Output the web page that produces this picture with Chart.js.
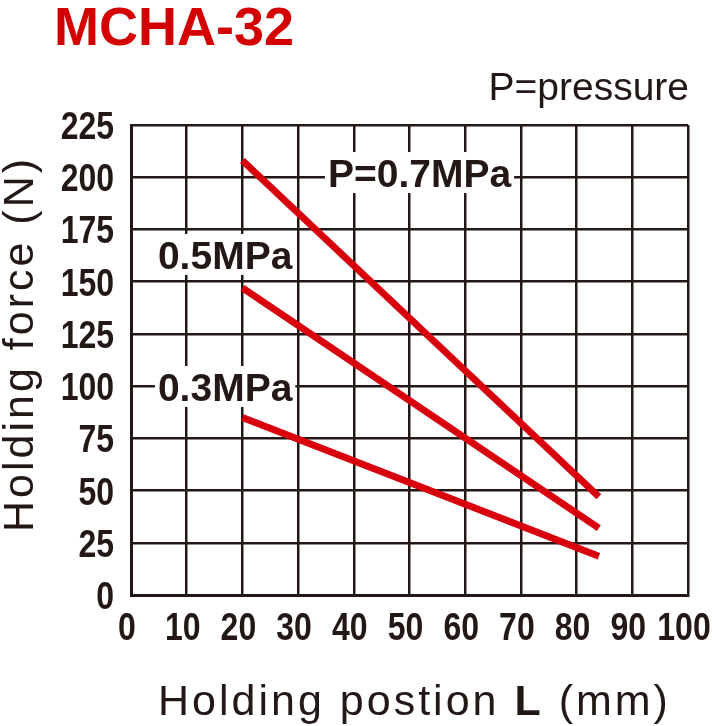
<!DOCTYPE html>
<html lang="en">
<head>
    <meta charset="UTF-8">
    <title>MCHA-32 Holding force</title>
    <script src="https://cdn.jsdelivr.net/npm/chart.js"></script>
    <style>
        body {
            margin: 0;
            background-color: #ffffff;
        }
        #wrap {
            width: 712px;
            height: 726px;
        }
    </style>
</head>
<body>
    <div id="wrap">
        <canvas id="forceChart" width="712" height="726"></canvas>
    </div>

    <script>
        // Data
        const positionMm = [20, 84];
        const force07 = [208, 47];
        const force05 = [147, 32];
        const force03 = [85, 18.5];
        const seriesNames = ['P=0.7MPa', '0.5MPa', '0.3MPa'];
        const xTicks = [0, 10, 20, 30, 40, 50, 60, 70, 80, 90, 100];
        const yTicks = [0, 25, 50, 75, 100, 125, 150, 175, 200, 225];

        // where each series label sits, in data units (mm, N)
        const labelX = [51.8, 16.9, 16.9];
        const labelY = [202, 162.8, 99.6];

        const ink = '#231815';
        const red = '#d9000d';
        const plainFont = '"Liberation Sans", Arial, Helvetica, sans-serif';

        function toPoints(ys) {
            return positionMm.map((x, i) => ({ x: x, y: ys[i] }));
        }

        // narrow bold numbers: Liberation Sans bold squeezed sideways
        function narrowText(ctx, text, x, y, align) {
            ctx.save();
            ctx.translate(x, y);
            ctx.scale(0.82, 1);
            ctx.textAlign = align;
            ctx.fillText(text, 0, 0);
            ctx.restore();
        }

        // text drawn on top: series labels with white boxes, ticks, titles
        const overlayPlugin = {
            id: 'overlay',
            afterDatasetsDraw(chart) {
                const ctx = chart.ctx;
                const xs = chart.scales.x;
                const ys = chart.scales.y;
                ctx.save();
                ctx.font = 'bold 39px ' + plainFont;
                ctx.textAlign = 'center';
                ctx.textBaseline = 'alphabetic';
                seriesNames.forEach((name, i) => {
                    const cx = xs.getPixelForValue(labelX[i]);
                    const cy = ys.getPixelForValue(labelY[i]);
                    const w = ctx.measureText(name).width;
                    ctx.fillStyle = '#ffffff';
                    ctx.fillRect(cx - w / 2 - 3, cy - 21, w + 6, 41);
                    ctx.fillStyle = ink;
                    ctx.fillText(name, cx, cy + 14);
                });
                ctx.restore();
            },
            afterDraw(chart) {
                const ctx = chart.ctx;
                const area = chart.chartArea;
                const xs = chart.scales.x;
                const ys = chart.scales.y;
                ctx.save();

                // tick labels
                ctx.fillStyle = ink;
                ctx.font = 'bold 39px ' + plainFont;
                ctx.textBaseline = 'alphabetic';
                yTicks.forEach(v => {
                    narrowText(ctx, String(v), area.left - 17, ys.getPixelForValue(v) + 14, 'right');
                });
                xTicks.forEach(v => {
                    narrowText(ctx, String(v), xs.getPixelForValue(v) - 4, area.bottom + 45, 'center');
                });

                // model title
                ctx.fillStyle = '#d40000';
                ctx.font = 'bold 54px ' + plainFont;
                ctx.textAlign = 'left';
                ctx.fillText('MCHA-32', 54, 45);

                // legend note
                ctx.fillStyle = ink;
                ctx.font = '39px ' + plainFont;
                ctx.textAlign = 'right';
                ctx.fillText('P=pressure', 689, 100);

                // y axis title
                ctx.letterSpacing = '3px';
                ctx.font = '43px ' + plainFont;
                ctx.textAlign = 'center';
                ctx.translate(33, 344);
                ctx.rotate(-Math.PI / 2);
                ctx.fillText('Holding force (N)', 0, 0);
                ctx.restore();

                // x axis title with bold L
                ctx.save();
                ctx.letterSpacing = '3px';
                ctx.fillStyle = ink;
                ctx.textAlign = 'left';
                ctx.textBaseline = 'alphabetic';
                const parts = [
                    ['Holding postion ', '43px ' + plainFont],
                    ['L', 'bold 43px ' + plainFont],
                    [' (mm)', '43px ' + plainFont]
                ];
                let total = 0;
                parts.forEach(p => { ctx.font = p[1]; total += ctx.measureText(p[0]).width; });
                let x = (area.left + area.right) / 2 + 5 - total / 2;
                parts.forEach(p => {
                    ctx.font = p[1];
                    ctx.fillText(p[0], x, 715);
                    x += ctx.measureText(p[0]).width;
                });
                ctx.restore();
            }
        };

        const ctx = document.getElementById('forceChart').getContext('2d');
        const forceChart = new Chart(ctx, {
            type: 'line',
            data: {
                datasets: [
                    { label: seriesNames[0], data: toPoints(force07) },
                    { label: seriesNames[1], data: toPoints(force05) },
                    { label: seriesNames[2], data: toPoints(force03) }
                ].map(d => Object.assign(d, {
                    borderColor: red,
                    borderWidth: 7,
                    borderCapStyle: 'butt',
                    pointRadius: 0,
                    fill: false,
                    tension: 0
                }))
            },
            options: {
                responsive: false,
                animation: false,
                layout: {
                    padding: { top: 125, right: 24, left: 0, bottom: 0 }
                },
                plugins: {
                    legend: { display: false },
                    tooltip: { enabled: false }
                },
                scales: {
                    x: {
                        type: 'linear',
                        min: 0,
                        max: 100,
                        afterFit: s => { s.height = 131; },
                        afterBuildTicks: s => { s.ticks = xTicks.map(v => ({ value: v })); },
                        ticks: { display: false },
                        grid: { color: ink, lineWidth: 2.5, drawTicks: false },
                        border: { color: ink, width: 3 }
                    },
                    y: {
                        min: 0,
                        max: 225,
                        afterFit: s => { s.width = 131; },
                        afterBuildTicks: s => { s.ticks = yTicks.map(v => ({ value: v })); },
                        ticks: { display: false },
                        grid: { color: ink, lineWidth: 2.5, drawTicks: false },
                        border: { color: ink, width: 3 }
                    }
                }
            },
            plugins: [overlayPlugin]
        });
    </script>
</body>
</html>
